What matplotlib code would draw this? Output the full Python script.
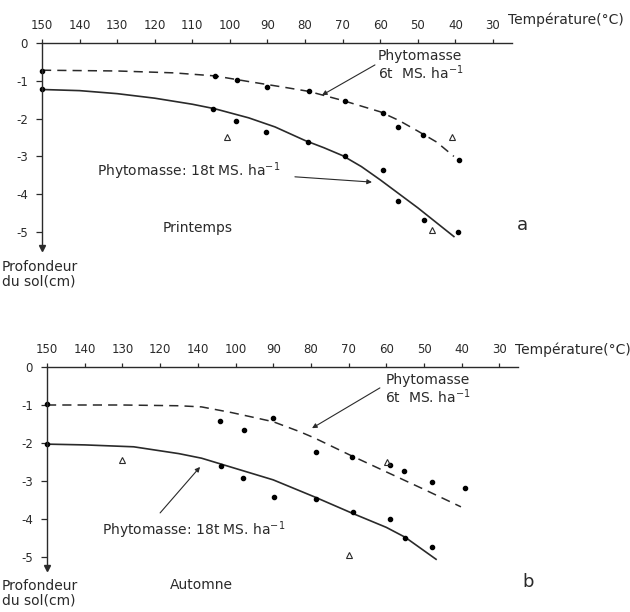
import matplotlib
matplotlib.use("Agg")
import matplotlib.pyplot as plt

plt.rcParams['font.family'] = ['DejaVu Sans']
plt.rcParams['axes.unicode_minus'] = False

# ---------------- data: panel a (Printemps) ----------------
a_t6 = [150, 104, 98, 90, 79, 69.4, 59.3, 55.3, 48.7, 39.1]
a_d6 = [-0.73, -0.87, -0.99, -1.17, -1.26, -1.54, -1.84, -2.23, -2.43, -3.10]
a_t18 = [150, 104.4, 98.3, 90.3, 79.2, 69.4, 59.3, 55.3, 48.4, 39.4]
a_d18 = [-1.23, -1.74, -2.06, -2.35, -2.61, -2.98, -3.37, -4.19, -4.69, -5.00]
a_tri_t = [100.7, 41, 46.3]
a_tri_d = [-2.48, -2.48, -4.95]
a_c6_t = [150, 130, 115, 104, 95, 85, 79, 70, 60, 55, 50, 45, 40.4]
a_c6_d = [-0.72, -0.74, -0.79, -0.87, -1.02, -1.18, -1.28, -1.52, -1.82, -2.05, -2.33, -2.62, -3.00]
a_c18_t = [150, 140, 130, 120, 110, 104, 95, 88, 80, 75, 70, 65, 60, 50, 40.4]
a_c18_d = [-1.23, -1.26, -1.34, -1.46, -1.62, -1.74, -1.98, -2.22, -2.58, -2.77, -2.98, -3.27, -3.62, -4.36, -5.12]

# ---------------- data: panel b (Automne) ----------------
b_t6 = [150, 104.1, 97.7, 90, 78.6, 69.1, 59, 55.3, 47.9, 39.1]
b_d6 = [-0.98, -1.41, -1.66, -1.35, -2.23, -2.36, -2.58, -2.73, -3.02, -3.19]
b_t18 = [150, 103.8, 98, 89.8, 78.6, 68.8, 59, 55, 47.9]
b_d18 = [-2.03, -2.60, -2.91, -3.43, -3.48, -3.81, -4.00, -4.51, -4.73]
b_tri_t = [130, 59.7, 69.9]
b_tri_d = [-2.45, -2.50, -4.95]
b_c6_t = [150, 130, 115, 109, 101, 95, 90, 83, 79, 70, 60, 50, 40.2]
b_c6_d = [-1.00, -1.00, -1.02, -1.05, -1.20, -1.33, -1.44, -1.70, -1.87, -2.30, -2.76, -3.22, -3.68]
b_c18_t = [150, 140, 127, 115, 109, 104, 90, 79, 69, 60, 55, 46.8]
b_c18_d = [-2.03, -2.05, -2.10, -2.28, -2.40, -2.55, -2.97, -3.42, -3.85, -4.22, -4.48, -5.06]

xticks = [150, 140, 130, 120, 110, 100, 90, 80, 70, 60, 50, 40, 30]
a_xlabels = ["150", "140", "130", "120", "110", "100", "90", "80", "70", "60", "50", "40", "30"]
b_xlabels = ["150", "140", "130", "120", "140", "100", "90", "80", "70", "60", "50", "40", "30"]
yticks = [0, -1, -2, -3, -4, -5]
ylabels = ["0", "-1", "-2", "-3", "-4", "-5"]

INK = '#2a2a2a'
W, H = 630, 612
fig = plt.figure(figsize=(W / 100, H / 100), dpi=100)


def make_axes(px_x150, px_per10, px_y0, px_per1, ymin, xmax_t=25):
    left = px_x150
    right = px_x150 + (150 - xmax_t) / 10 * px_per10
    top = px_y0
    bottom = px_y0 + (-ymin) * px_per1
    ax = fig.add_axes([left / W, 1 - bottom / H, (right - left) / W, (bottom - top) / H])
    ax.set_xlim(150, xmax_t)
    ax.set_ylim(ymin, 0)
    ax.patch.set_alpha(0)
    for s in ['right', 'bottom']:
        ax.spines[s].set_visible(False)
    for s in ['top', 'left']:
        ax.spines[s].set_color(INK)
        ax.spines[s].set_linewidth(1.0)
    ax.xaxis.tick_top()
    ax.tick_params(axis='x', direction='out', length=3, width=0.9, pad=5,
                   labelsize=8.5, colors=INK)
    ax.tick_params(axis='y', direction='out', length=4, width=0.9, pad=6,
                   labelsize=8.5, colors=INK)
    ax.set_yticks(yticks)
    ax.set_yticklabels(ylabels)
    ax.plot([150], [ymin], marker='v', color=INK, markersize=5, clip_on=False)
    return ax


def draw(ax, c6t, c6d, c18t, c18d, t6, d6, t18, d18, trit, trid):
    ax.plot(c6t, c6d, color=INK, lw=1.1, ls=(0, (6, 4)), clip_on=False)
    ax.plot(c18t, c18d, color=INK, lw=1.2, clip_on=False)
    ax.plot(t6, d6, 'o', color='black', markersize=3.0, clip_on=False)
    ax.plot(t18, d18, 'o', color='black', markersize=3.0, clip_on=False)
    ax.plot(trit, trid, '^', mfc='none', mec=INK, mew=0.8, markersize=5, clip_on=False)


arrowprops = dict(arrowstyle='-|>', color=INK, lw=0.8, mutation_scale=7, shrinkA=0, shrinkB=0)
tk = dict(color=INK, fontsize=10)

# ---------------- panel a ----------------
axa = make_axes(42, 37.58, 43, 37.8, -5.42)
axa.set_xticks(xticks)
axa.set_xticklabels(a_xlabels)
draw(axa, a_c6_t, a_c6_d, a_c18_t, a_c18_d, a_t6, a_d6, a_t18, a_d18, a_tri_t, a_tri_d)
axa.text(60.6, -0.15, "Phytomasse\n6t  MS. ha$^{-1}$", va='top', ha='left', linespacing=1.05, **tk)
axa.annotate("", xy=(75.5, -1.38), xytext=(61.4, -0.58), arrowprops=arrowprops)
axa.text(135.4, -3.38, "Phytomasse: 18t MS. ha$^{-1}$", va='center', ha='left', **tk)
axa.annotate("", xy=(62.2, -3.68), xytext=(82.7, -3.54), arrowprops=arrowprops)
axa.text(117.8, -4.89, "Printemps", va='center', ha='left', **tk)
axa.text(23.6, -4.81, "a", va='center', ha='left', color=INK, fontsize=13)
fig.text(508 / W, 1 - 20 / H, "Température(°C)", va='center', ha='left', **tk)
fig.text(2 / W, 1 - 274 / H, "Profondeur\ndu sol(cm)", va='center', ha='left', linespacing=1.05, **tk)

# ---------------- panel b ----------------
axb = make_axes(47, 37.7, 367, 38.0, -5.3)
axb.set_xticks(xticks)
axb.set_xticklabels(b_xlabels)
draw(axb, b_c6_t, b_c6_d, b_c18_t, b_c18_d, b_t6, b_d6, b_t18, b_d18, b_tri_t, b_tri_d)
axb.text(60.3, -0.15, "Phytomasse\n6t  MS. ha$^{-1}$", va='top', ha='left', linespacing=1.05, **tk)
axb.annotate("", xy=(79.7, -1.61), xytext=(61.7, -0.55), arrowprops=arrowprops)
axb.text(135.4, -4.29, "Phytomasse: 18t MS. ha$^{-1}$", va='center', ha='left', **tk)
axb.annotate("", xy=(109.4, -2.63), xytext=(120.0, -3.84), arrowprops=arrowprops)
axb.text(117.4, -5.74, "Automne", va='center', ha='left', **tk)
axb.text(24.0, -5.66, "b", va='center', ha='left', color=INK, fontsize=13)
fig.text(515 / W, 1 - 350 / H, "Température(°C)", va='center', ha='left', **tk)
fig.text(2 / W, 1 - 593 / H, "Profondeur\ndu sol(cm)", va='center', ha='left', linespacing=1.05, **tk)

fig.savefig("out.png", dpi=100)
